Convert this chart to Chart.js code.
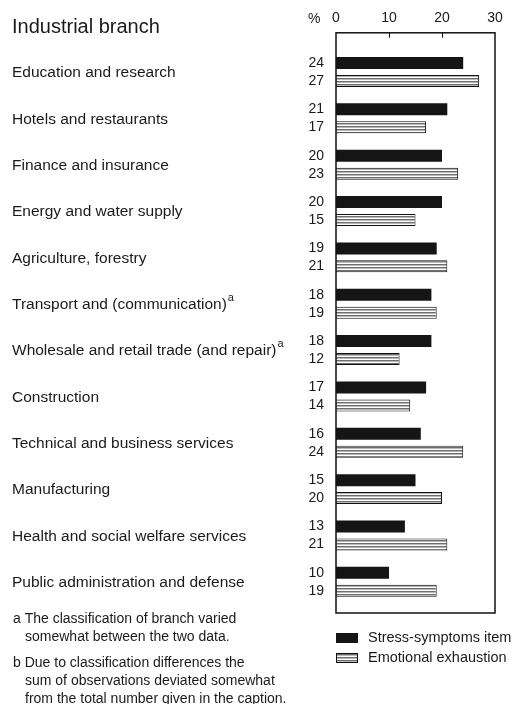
<!DOCTYPE html>
<html>
<head>
<meta charset="utf-8">
<script src="https://cdn.jsdelivr.net/npm/chart.js@4.4.1/dist/chart.umd.min.js"></script>
<style>
    html, body { margin: 0; padding: 0; background: #fff; }
    #wrap { width: 512px; height: 704px; position: relative; }
</style>
</head>
<body>
<div id="wrap"><canvas id="chart"></canvas></div>
<script>
// Stress symptoms vs emotional exhaustion by industrial branch

const branches = [
    'Education and research',
    'Hotels and restaurants',
    'Finance and insurance',
    'Energy and water supply',
    'Agriculture, forestry',
    'Transport and (communication)',
    'Wholesale and retail trade (and repair)',
    'Construction',
    'Technical and business services',
    'Manufacturing',
    'Health and social welfare services',
    'Public administration and defense'
];
const branchNotes = ['', '', '', '', '', 'a', 'a', '', '', '', '', ''];
const stressValues = [24, 21, 20, 20, 19, 18, 18, 17, 16, 15, 13, 10];
const exhaustionValues = [27, 17, 23, 15, 21, 19, 12, 14, 24, 20, 21, 19];
const xTicks = [0, 10, 20, 30];
const seriesNames = ['Stress-symptoms item', 'Emotional exhaustion'];
const title = 'Industrial branch';
const footnotes = [
    ['a The classification of branch varied', 'somewhat between the two data.'],
    ['b Due to classification differences the', 'sum of observations deviated somewhat', 'from the total number given in the caption.']
];

const FONT = '"Liberation Sans", Arial, sans-serif';
const INK = '#1a1a1a';

function makeHatch(ctx) {
    const c = document.createElement('canvas');
    c.width = 4;
    c.height = 3;
    const g = c.getContext('2d');
    g.fillStyle = '#fff';
    g.fillRect(0, 0, 4, 3);
    g.fillStyle = '#6e6e6e';
    g.fillRect(0, 0, 4, 1);
    g.fillStyle = '#b8b8b8';
    g.fillRect(0, 1, 4, 1);
    return ctx.createPattern(c, 'repeat');
}

// frame, labels, legend and notes
const decor = {
    id: 'decor',
    afterDraw(chart) {
        const ctx = chart.ctx;
        const area = chart.chartArea;
        const x = chart.scales.x;
        const y = chart.scales.y;
        const frameTop = area.top - 16;
        const frameBottom = area.bottom + 8;

        ctx.save();
        ctx.strokeStyle = '#111';
        ctx.lineWidth = 1.5;
        ctx.strokeRect(area.left, frameTop, area.right - area.left, frameBottom - frameTop);

        // small inner ticks
        ctx.lineWidth = 1;
        xTicks.slice(1, -1).forEach(v => {
            const px = Math.round(x.getPixelForValue(v)) + 0.5;
            ctx.beginPath();
            ctx.moveTo(px, frameTop);
            ctx.lineTo(px, frameTop + 5);
            ctx.stroke();
        });

        ctx.fillStyle = INK;
        ctx.textBaseline = 'middle';
        ctx.font = '14px ' + FONT;
        ctx.textAlign = 'left';
        ctx.fillText('%', area.left - 28, 19);

        // title
        ctx.font = '20px ' + FONT;
        ctx.textBaseline = 'alphabetic';
        ctx.fillText(title, 12, 33);

        // branch labels
        ctx.textBaseline = 'middle';
        branches.forEach((name, i) => {
            const py = y.getPixelForValue(i) + 1;
            ctx.font = '15.5px ' + FONT;
            ctx.fillText(name, 12, py);
            if (branchNotes[i]) {
                const w = ctx.measureText(name).width;
                ctx.font = '11px ' + FONT;
                ctx.fillText(branchNotes[i], 12 + w + 1, py - 7);
            }
        });

        // value labels
        ctx.font = '14px ' + FONT;
        ctx.textAlign = 'right';
        chart.data.datasets.forEach((ds, di) => {
            chart.getDatasetMeta(di).data.forEach((bar, i) => {
                ctx.fillText(String(ds.data[i]), area.left - 12, bar.y);
            });
        });

        // legend
        ctx.textAlign = 'left';
        ctx.font = '14.5px ' + FONT;
        chart.data.datasets.forEach((ds, di) => {
            const cy = area.bottom + 33 + di * 20;
            ctx.fillStyle = ds.backgroundColor;
            ctx.fillRect(area.left, cy - 5, 22, 10);
            if (ds.borderWidth) {
                ctx.strokeStyle = ds.borderColor;
                ctx.lineWidth = 1;
                ctx.strokeRect(area.left + 0.5, cy - 4.5, 21, 9);
            }
            ctx.fillStyle = INK;
            ctx.fillText(ds.label, area.left + 32, cy);
        });

        // footnotes
        ctx.font = '14px ' + FONT;
        let ly = 619;
        footnotes.forEach(block => {
            block.forEach((line, li) => {
                ctx.fillText(line, li === 0 ? 13 : 25, ly);
                ly += 18;
            });
            ly += 8;
        });
        ctx.restore();
    }
};

const canvas = document.getElementById('chart');
const hatch = makeHatch(canvas.getContext('2d'));

new Chart(canvas, {
    type: 'bar',
    data: {
        labels: branches,
        datasets: [
            {
                label: seriesNames[0],
                data: stressValues,
                backgroundColor: '#151515',
                borderWidth: 0
            },
            {
                label: seriesNames[1],
                data: exhaustionValues,
                backgroundColor: hatch,
                borderColor: '#111',
                borderWidth: 1
            }
        ]
    },
    options: {
        indexAxis: 'y',
        responsive: true,
        maintainAspectRatio: false,
        animation: false,
        categoryPercentage: 0.776,
        barPercentage: 0.667,
        layout: {
            padding: { left: 336, right: 17, top: 10, bottom: 99 }
        },
        plugins: {
            legend: { display: false },
            tooltip: { enabled: false }
        },
        scales: {
            x: {
                type: 'linear',
                position: 'top',
                min: 0,
                max: 30,
                afterBuildTicks: axis => {
                    axis.ticks = xTicks.map(v => ({ value: v }));
                },
                afterFit: axis => {
                    axis.height = 38.8;
                    axis.paddingLeft = 0;
                    axis.paddingRight = 0;
                },
                ticks: {
                    color: INK,
                    font: { family: FONT, size: 14 },
                    padding: 22
                },
                grid: { display: false, drawTicks: false },
                border: { display: false }
            },
            y: {
                type: 'category',
                offset: true,
                display: false
            }
        }
    },
    plugins: [decor]
});
</script>
</body>
</html>
